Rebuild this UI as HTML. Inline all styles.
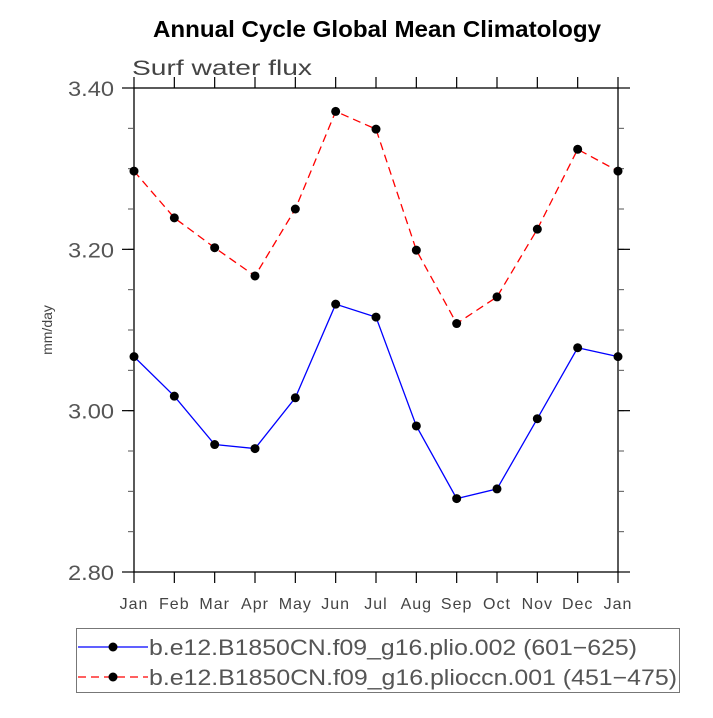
<!DOCTYPE html>
<html><head><meta charset="utf-8"><style>
body{margin:0;background:#fff;}
svg text{font-family:"Liberation Sans",sans-serif;}
</style></head><body>
<svg width="713" height="713" viewBox="0 0 713 713">
<text x="153" y="37" textLength="448" lengthAdjust="spacingAndGlyphs" font-size="23" font-weight="bold">Annual Cycle Global Mean Climatology</text>
<text x="132" y="75" textLength="180" lengthAdjust="spacingAndGlyphs" font-size="21" fill="#444">Surf  water  flux</text>
<text transform="translate(52,330) rotate(-90)" text-anchor="middle" font-size="14" fill="#444">mm/day</text>
<g id="axes"></g>
<g id="series"></g>
<g>
<rect x="76.5" y="628.5" width="603" height="64" fill="none" stroke="#777"/>
<g>
<line x1="78" y1="647" x2="148" y2="647" stroke="#00f" stroke-width="1.3"/>
<circle cx="113" cy="647" r="4.5"/>
<text x="149" y="655" textLength="488" lengthAdjust="spacingAndGlyphs" font-size="22" fill="#555">b.e12.B1850CN.f09_g16.plio.002 (601−625)</text>
</g>
<g>
<line x1="78" y1="677" x2="148" y2="677" stroke="#f00" stroke-width="1.3" stroke-dasharray="8,5"/>
<circle cx="113" cy="677" r="4.5"/>
<text x="149" y="685" textLength="528" lengthAdjust="spacingAndGlyphs" font-size="22" fill="#555">b.e12.B1850CN.f09_g16.plioccn.001 (451−475)</text>
</g>
</g>
</svg>
<script>
const months=["Jan","Feb","Mar","Apr","May","Jun","Jul","Aug","Sep","Oct","Nov","Dec","Jan"];
const blueValues=[3.067,3.018,2.958,2.953,3.016,3.132,3.116,2.981,2.891,2.903,2.990,3.078,3.067];
const redValues=[3.297,3.239,3.202,3.167,3.250,3.371,3.349,3.199,3.108,3.141,3.225,3.324,3.297];
const yTicks=[2.80,3.00,3.20,3.40];
const yLabels=["2.80","3.00","3.20","3.40"];
const NS="http://www.w3.org/2000/svg";
const L=134,R=618,T=88,B=572,ymin=2.8,ymax=3.4;
const xs=i=>L+(R-L)*i/(months.length-1);
const ys=v=>B-(v-ymin)/(ymax-ymin)*(B-T);
function mk(tag,attrs,parent){const e=document.createElementNS(NS,tag);for(const k in attrs)e.setAttribute(k,attrs[k]);parent.appendChild(e);return e;}
const ax=document.getElementById('axes');
const frame=mk('rect',{x:L,y:T,width:R-L,height:B-T,fill:'none',stroke:'#000','stroke-width':1.3},ax);


for(let i=0;i<months.length;i++){
  const x=xs(i);
  mk('line',{x1:x,y1:B,x2:x,y2:B+11,stroke:'#000','stroke-width':1.2},ax);
  mk('line',{x1:x,y1:T,x2:x,y2:T-11,stroke:'#000','stroke-width':1.2},ax);
  const t=mk('text',{x:x,y:B+37,'text-anchor':'middle','font-size':16,fill:'#444','letter-spacing':1},ax);
  t.textContent=months[i];
  
  
}
for(let v=ymin;v<=ymax+1e-9;v+=0.05){
  const y=ys(v);
  mk('line',{x1:L-6,y1:y,x2:L,y2:y,stroke:'#555'},ax);
  mk('line',{x1:R,y1:y,x2:R+6,y2:y,stroke:'#555'},ax);
}
yTicks.forEach((v,i)=>{
  const y=ys(v);
  mk('line',{x1:L-12,y1:y,x2:L,y2:y,stroke:'#000','stroke-width':1.2},ax);
  mk('line',{x1:R,y1:y,x2:R+12,y2:y,stroke:'#000','stroke-width':1.2},ax);
  const t=mk('text',{x:L-66,y:y+8,textLength:46,lengthAdjust:'spacingAndGlyphs','font-size':21,fill:'#555'},ax);
  t.textContent=yLabels[i];
  
  
});
const sg=document.getElementById('series');
function drawSeries(vals,color,dash,name){
  const g=mk('g',{},sg);
  
  
  const pts=vals.map((v,i)=>xs(i)+','+ys(v)).join(' ');
  const pl=mk('polyline',{points:pts,fill:'none',stroke:color,'stroke-width':1.3},g);
  if(dash)pl.setAttribute('stroke-dasharray',dash);
  
  
  vals.forEach((v,i)=>{
    const c=mk('circle',{cx:xs(i),cy:ys(v),r:4.5,fill:'#000'},g);
    
    
  });
}
drawSeries(redValues,'#f00','8,5','series-plioccn');
drawSeries(blueValues,'#00f',null,'series-plio');
</script>
</body></html>
